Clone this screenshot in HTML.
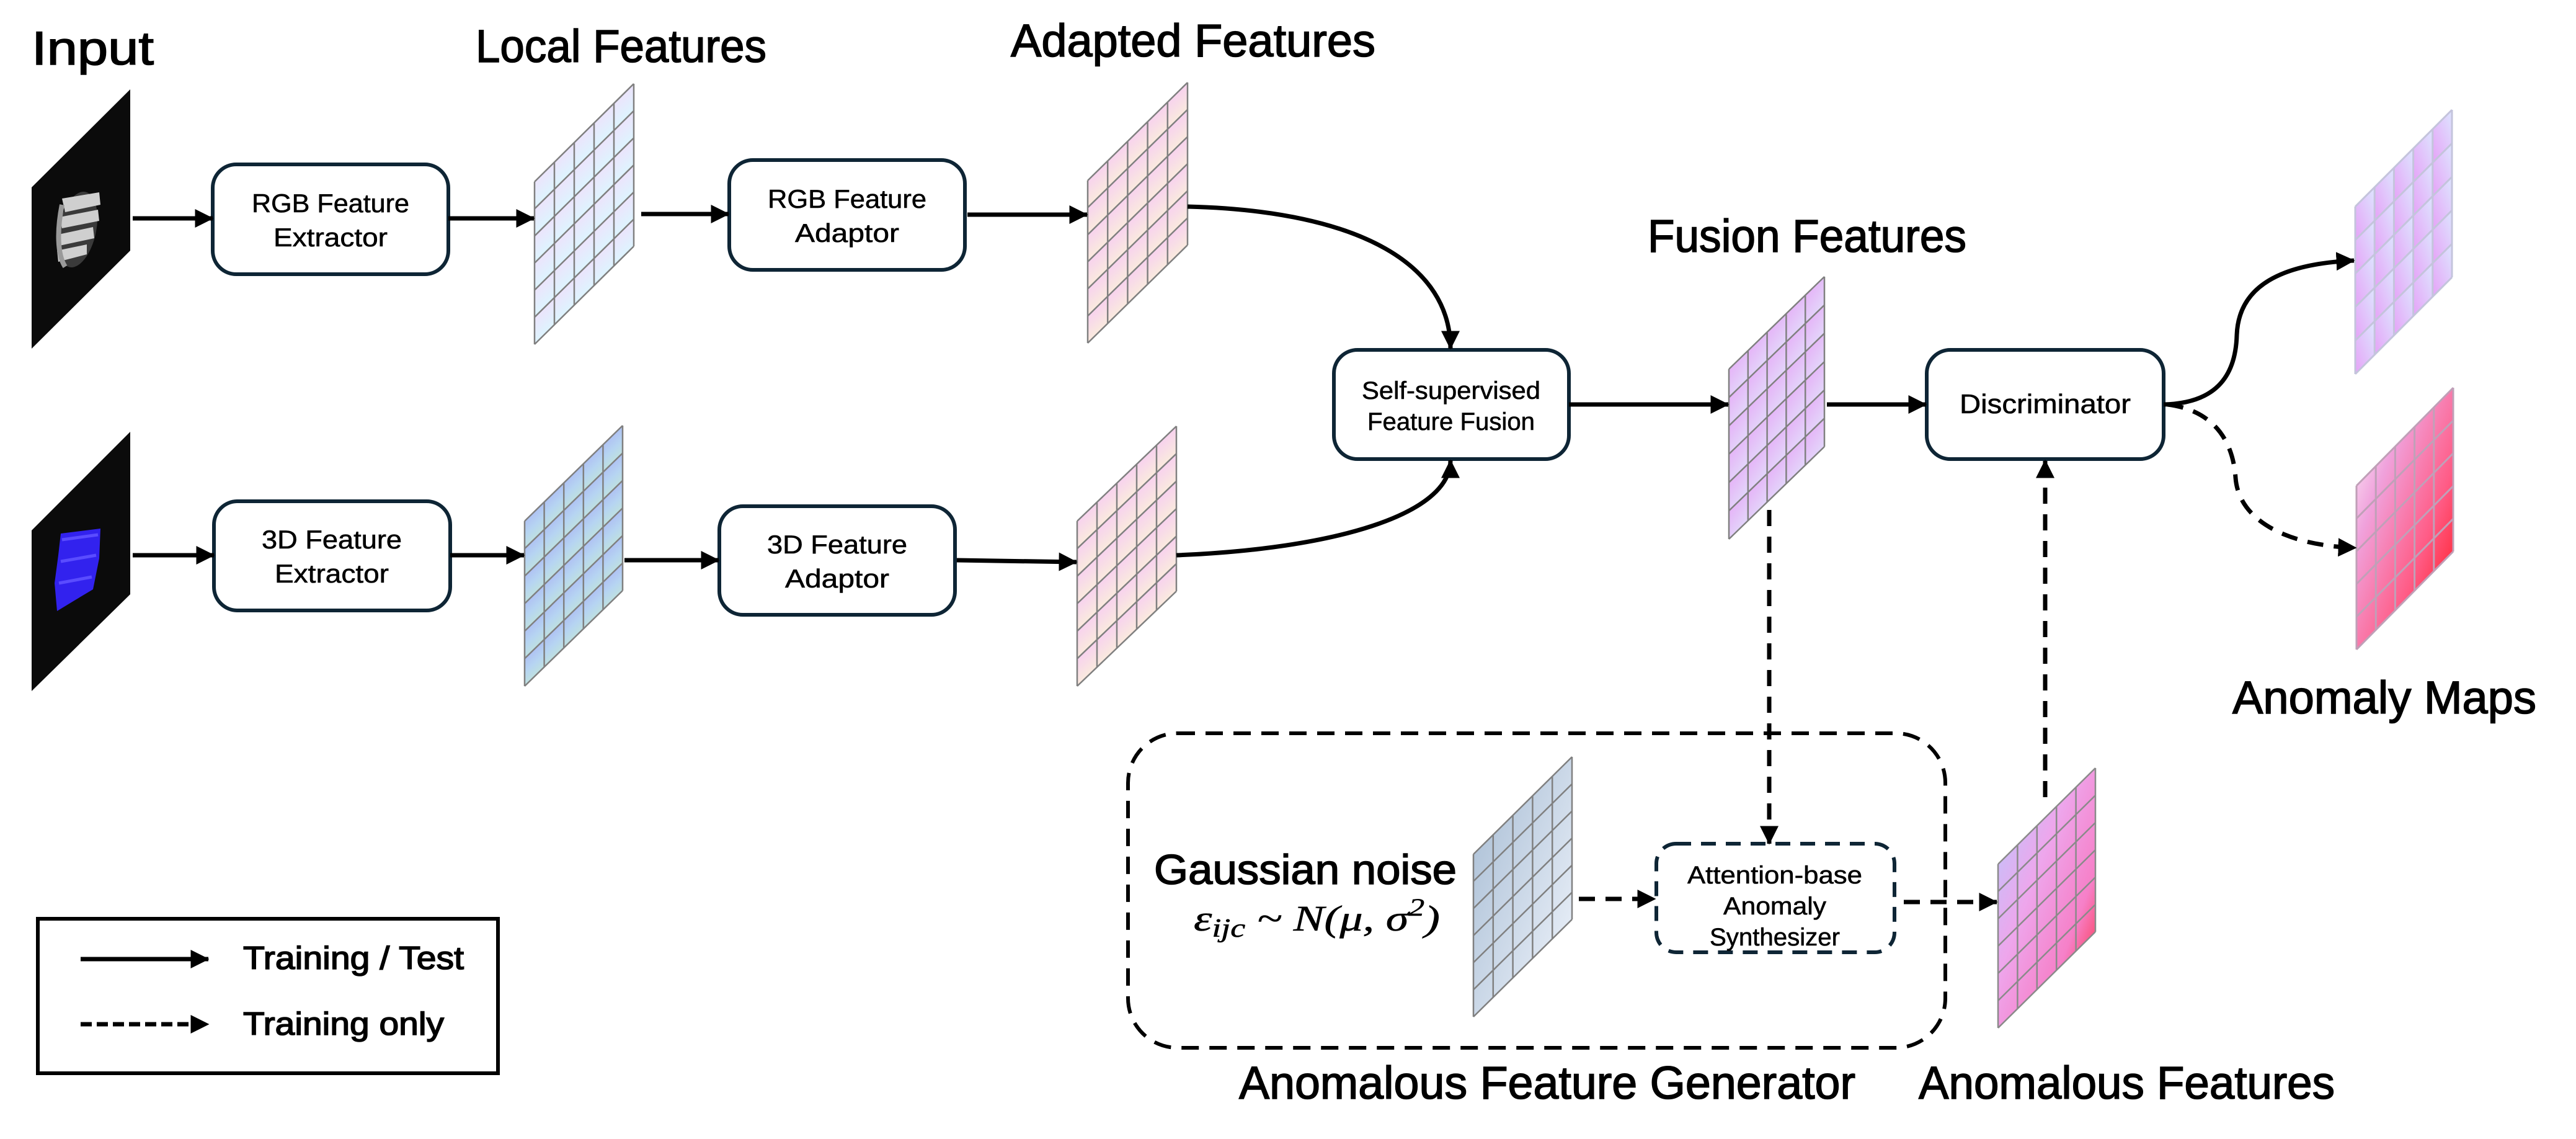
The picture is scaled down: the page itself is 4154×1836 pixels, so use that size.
<!DOCTYPE html>
<html><head><meta charset="utf-8"><style>
html,body{margin:0;padding:0;background:#fff;}
svg{display:block;}
text{font-family:"Liberation Sans",sans-serif;fill:#000;}
.t{stroke:#000;stroke-width:1.6px;}
.b{stroke:#000;stroke-width:0.6px;}
</style></head><body>
<svg id="s" width="4154" height="1836" viewBox="0 0 4154 1836" xmlns="http://www.w3.org/2000/svg">
<defs>
<marker id="ah" viewBox="0 0 10 10" refX="9.5" refY="5" markerWidth="30" markerHeight="30" markerUnits="userSpaceOnUse" orient="auto"><path d="M0,0 L10,5 L0,10z" fill="#000"/></marker>
<linearGradient id="gL1" x1="0.3" y1="0" x2="0.7" y2="1"><stop offset="0" stop-color="#f3dcfb"/><stop offset="1" stop-color="#d6fcff"/></linearGradient>
<linearGradient id="gL2" x1="0.3" y1="0" x2="0.7" y2="1"><stop offset="0" stop-color="#a8b0f4"/><stop offset="0.5" stop-color="#b6d4f2"/><stop offset="1" stop-color="#c6eccf"/></linearGradient>
<linearGradient id="gA" x1="0.3" y1="0" x2="0.7" y2="1"><stop offset="0" stop-color="#f6c6f6"/><stop offset="1" stop-color="#fbf6d6"/></linearGradient>
<linearGradient id="gF" x1="0.2" y1="0" x2="0.8" y2="1"><stop offset="0" stop-color="#e6a8f6"/><stop offset="1" stop-color="#e2e2fb"/></linearGradient>
<linearGradient id="gM1" x1="0" y1="1" x2="1" y2="0"><stop offset="0" stop-color="#e6a2f7"/><stop offset="1" stop-color="#dde6ff"/></linearGradient>
<linearGradient id="gM2" x1="0" y1="0" x2="1" y2="1"><stop offset="0" stop-color="#ffffff"/><stop offset="0.3" stop-color="#f0a2dc"/><stop offset="0.65" stop-color="#ff5c86"/><stop offset="1" stop-color="#ff0a0a"/></linearGradient>
<linearGradient id="gAF" x1="0" y1="0" x2="1" y2="1"><stop offset="0" stop-color="#b4ccff"/><stop offset="0.4" stop-color="#eea6ec"/><stop offset="0.7" stop-color="#f680c8"/><stop offset="1" stop-color="#ff1414"/></linearGradient>
<linearGradient id="gN" x1="0" y1="0" x2="1" y2="1"><stop offset="0" stop-color="#a4bad2"/><stop offset="1" stop-color="#f2f6fd"/></linearGradient>
</defs>

<!-- titles -->
<g class="t">
<text x="51" y="104" font-size="76" textLength="197" lengthAdjust="spacingAndGlyphs">Input</text>
<text x="767" y="100" font-size="74" textLength="469" lengthAdjust="spacingAndGlyphs">Local Features</text>
<text x="1630" y="91" font-size="74" textLength="588" lengthAdjust="spacingAndGlyphs">Adapted Features</text>
<text x="2657" y="406" font-size="74" textLength="514" lengthAdjust="spacingAndGlyphs">Fusion Features</text>
<text x="3600" y="1150" font-size="74" textLength="490" lengthAdjust="spacingAndGlyphs">Anomaly Maps</text>
<text x="1861" y="1425" font-size="68" textLength="488" lengthAdjust="spacingAndGlyphs">Gaussian noise</text>
<text x="1998" y="1771" font-size="74" textLength="994" lengthAdjust="spacingAndGlyphs">Anomalous Feature Generator</text>
<text x="3094" y="1771" font-size="74" textLength="671" lengthAdjust="spacingAndGlyphs">Anomalous Features</text>
</g>
<text x="1925" y="1500" font-size="58" font-style="italic" style="font-family:'Liberation Serif',serif" class="b" textLength="397" lengthAdjust="spacingAndGlyphs">ε<tspan font-size="42" dy="10">ijc</tspan><tspan dy="-10"> ~ N(μ, σ</tspan><tspan font-size="40" dy="-24">2</tspan><tspan dy="24">)</tspan></text>

<!-- input images -->
<polygon points="51,302 210,144 210,404 51,562" fill="#0b0b0b"/>
<g>
<ellipse cx="125" cy="370" rx="30" ry="62" fill="#3a3a3a" transform="rotate(12 125 370)"/>
<path d="M100,320 L160,310 L162,330 L105,342z M96,350 L158,338 L160,356 L100,368z M94,378 L150,366 L152,384 L96,396z M92,404 L140,394 L140,410 L94,422z" fill="#cfcfcf"/>
<path d="M100,330 C92,370 92,410 105,430" stroke="#9a9a9a" stroke-width="8" fill="none"/>
</g>
<polygon points="51,855 210,696 210,958 51,1114" fill="#0b0b0b"/>
<path d="M98,860 L162,852 L160,900 L150,950 L120,968 L92,985 L88,940 L94,895z" fill="#3222ee"/>
<path d="M100,870 L158,862 M98,905 L155,895 M95,940 L148,930" stroke="#5a4cff" stroke-width="5"/>

<!-- generator dashed box -->
<rect x="1819" y="1182" width="1318" height="507" rx="80" fill="none" stroke="#000" stroke-width="6" stroke-dasharray="28 17"/>
<rect x="2671" y="1360" width="384" height="175" rx="32" fill="#fff" stroke="#0e2535" stroke-width="6" stroke-dasharray="24 16"/>

<!-- boxes -->
<g fill="#fff" stroke="#0e2535" stroke-width="6">
<rect x="343" y="265" width="380" height="177" rx="38"/>
<rect x="1176" y="258" width="380" height="177" rx="38"/>
<rect x="345" y="808" width="381" height="176" rx="38"/>
<rect x="1160" y="816" width="380" height="175" rx="38"/>
<rect x="2151" y="564" width="379" height="176" rx="38"/>
<rect x="3107" y="564" width="382" height="176" rx="38"/>
</g>
<g font-size="42" text-anchor="middle" class="b">
<text x="533" y="342" textLength="254" lengthAdjust="spacingAndGlyphs">RGB Feature</text>
<text x="533" y="397" textLength="184" lengthAdjust="spacingAndGlyphs">Extractor</text>
<text x="1366" y="335" textLength="256" lengthAdjust="spacingAndGlyphs">RGB Feature</text>
<text x="1366" y="390" textLength="168" lengthAdjust="spacingAndGlyphs">Adaptor</text>
<text x="535" y="884" textLength="226" lengthAdjust="spacingAndGlyphs">3D Feature</text>
<text x="535" y="939" textLength="184" lengthAdjust="spacingAndGlyphs">Extractor</text>
<text x="1350" y="892" textLength="226" lengthAdjust="spacingAndGlyphs">3D Feature</text>
<text x="1350" y="947" textLength="168" lengthAdjust="spacingAndGlyphs">Adaptor</text>
</g>
<g font-size="40" text-anchor="middle" class="b">
<text x="2340" y="643" textLength="288" lengthAdjust="spacingAndGlyphs">Self-supervised</text>
<text x="2340" y="693" textLength="270" lengthAdjust="spacingAndGlyphs">Feature Fusion</text>
<text x="3298" y="666" font-size="44" textLength="276" lengthAdjust="spacingAndGlyphs">Discriminator</text>
<text x="2862" y="1424" textLength="282" lengthAdjust="spacingAndGlyphs">Attention-base</text>
<text x="2862" y="1474" textLength="166" lengthAdjust="spacingAndGlyphs">Anomaly</text>
<text x="2862" y="1524" textLength="210" lengthAdjust="spacingAndGlyphs">Synthesizer</text>
</g>

<g id="grids"></g>

<!-- solid arrows -->
<g stroke="#000" stroke-width="7" fill="none" marker-end="url(#ah)">
<line x1="214" y1="352" x2="343" y2="352"/>
<line x1="723" y1="352" x2="861" y2="352"/>
<line x1="1034" y1="345" x2="1175" y2="345"/>
<line x1="1560" y1="346" x2="1753" y2="346"/>
<line x1="214" y1="895" x2="345" y2="895"/>
<line x1="726" y1="895" x2="845" y2="895"/>
<line x1="1007" y1="903" x2="1159" y2="903"/>
<line x1="1543" y1="903" x2="1736" y2="906"/>
<path d="M1915,333 C2200,340 2339,430 2339,562"/>
<path d="M1897,895 C2150,885 2339,830 2339,742"/>
<line x1="2530" y1="652" x2="2787" y2="652"/>
<line x1="2946" y1="652" x2="3106" y2="652"/>
<path d="M3489,652 C3570,650 3605,610 3607,540 C3610,460 3680,425 3796,420"/>
</g>
<!-- dashed arrows -->
<g stroke="#000" stroke-width="7" fill="none" stroke-dasharray="26 17" marker-end="url(#ah)">
<line x1="2853" y1="822" x2="2853" y2="1360"/>
<line x1="3298" y1="1285" x2="3298" y2="742"/>
<line x1="2546" y1="1449" x2="2669" y2="1449"/>
<line x1="3070" y1="1454" x2="3220" y2="1454"/>
<path d="M3495,652 C3560,660 3600,700 3605,770 C3610,840 3690,880 3799,883"/>
</g>

<!-- legend -->
<rect x="61" y="1481" width="742" height="249" fill="none" stroke="#000" stroke-width="6"/>
<line x1="130" y1="1546" x2="336" y2="1546" stroke="#000" stroke-width="7" marker-end="url(#ah)"/>
<line x1="130" y1="1651" x2="336" y2="1651" stroke="#000" stroke-width="7" stroke-dasharray="18 8" marker-end="url(#ah)"/>
<text x="392" y="1562" font-size="52" class="t" textLength="356" lengthAdjust="spacingAndGlyphs">Training / Test</text>
<text x="392" y="1668" font-size="52" class="t" textLength="324" lengthAdjust="spacingAndGlyphs">Training only</text>
</svg>
<script>
(function(){
var NS="http://www.w3.org/2000/svg",g=document.getElementById("grids");
function P(lt,rt,h,u,v){return [lt[0]+u*(rt[0]-lt[0]), lt[1]+u*(rt[1]-lt[1])+v*h];}
function grid(lt,rt,h,cols,rows,fill,perCell,stroke,sw){
  if(!perCell){
    var a=P(lt,rt,h,0,0),b=P(lt,rt,h,1,0),c=P(lt,rt,h,1,1),d=P(lt,rt,h,0,1);
    var pg=document.createElementNS(NS,"polygon");
    pg.setAttribute("points",[a,b,c,d].map(function(p){return p.join(",")}).join(" "));
    pg.setAttribute("fill","url(#"+fill+")");g.appendChild(pg);
  }else{
    for(var i=0;i<cols;i++)for(var j=0;j<rows;j++){
      var a=P(lt,rt,h,i/cols,j/rows),b=P(lt,rt,h,(i+1)/cols,j/rows),c=P(lt,rt,h,(i+1)/cols,(j+1)/rows),d=P(lt,rt,h,i/cols,(j+1)/rows);
      var pg=document.createElementNS(NS,"polygon");
      pg.setAttribute("points",[a,b,c,d].map(function(p){return p.join(",")}).join(" "));
      pg.setAttribute("fill","url(#"+fill+")");g.appendChild(pg);
    }
  }
  var d="";
  for(var i=0;i<=cols;i++){var a=P(lt,rt,h,i/cols,0),b=P(lt,rt,h,i/cols,1);d+="M"+a+"L"+b;}
  for(var j=0;j<=rows;j++){var a=P(lt,rt,h,0,j/rows),b=P(lt,rt,h,1,j/rows);d+="M"+a+"L"+b;}
  var p=document.createElementNS(NS,"path");p.setAttribute("d",d);p.setAttribute("fill","none");
  p.setAttribute("stroke",stroke||"#808080");p.setAttribute("stroke-width",sw||2.5);g.appendChild(p);
}
grid([862,293],[1022,135],262,5,6,"gL1",true);
grid([846,840],[1004,686],266,5,6,"gL2",true);
grid([1754,291],[1915,133],262,5,6,"gA",true);
grid([1737,840],[1897,687],266,5,6,"gA",true);
grid([2788,595],[2942,446],274,5,6,"gF",true);
grid([2376,1377],[2535,1220],262,5,6,"gN",false);
grid([3222,1393],[3379,1238],264,5,6,"gAF",false,"#8a8a8a");
grid([3798,333],[3954,177],270,5,5,"gM1",true,"#c4c4dc",3);
grid([3800,783],[3956,625],264,5,5,"gM2",false,"#c0a0b8",3);
})();
</script>
</body></html>
